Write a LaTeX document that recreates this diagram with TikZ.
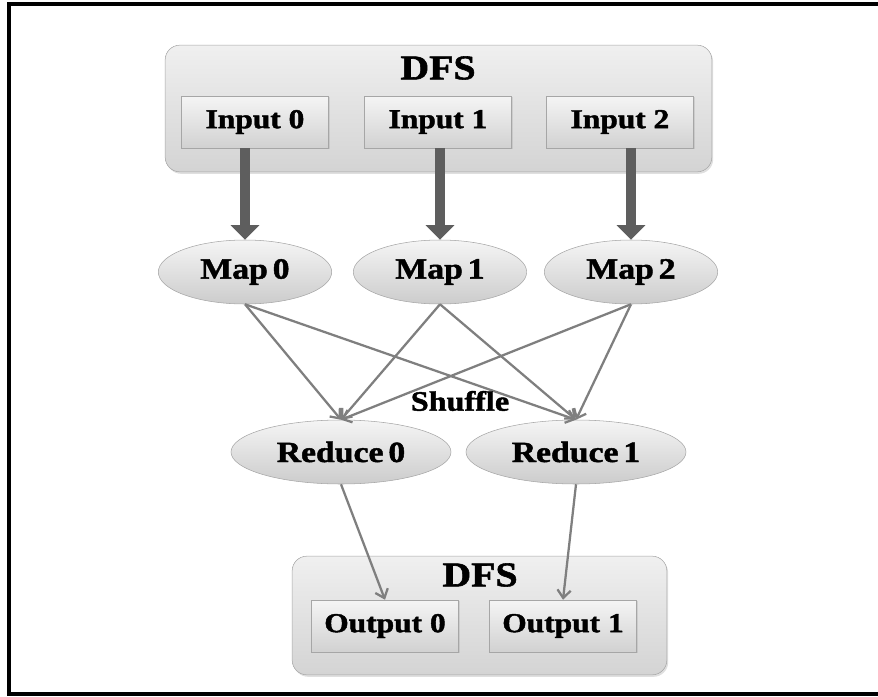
\documentclass[tikz,border=0pt]{standalone}
\usepackage{fontspec}
\usepackage{xcolor}
\usepackage{tikz}
\usetikzlibrary{shapes.geometric,arrows.meta,shadows}

\newfontfamily\diafont{Liberation Serif}[UprightFont={* Bold}, FakeStretch=1.15, FakeBold=1.6]

\definecolor{boxline}{HTML}{A6A6A6}
\definecolor{flowgray}{HTML}{7F7F7F}
\definecolor{fatgray}{HTML}{5E5E5E}

\tikzset{
    dfsbox/.style={draw=boxline, rounded corners=11pt, top color=black!6, bottom color=black!17,
        drop shadow={opacity=0.25, shadow xshift=1pt, shadow yshift=-1.5pt}},
    dfstitle/.style={font=\diafont\fontsize{26}{28}\selectfont},
    filebox/.style={draw=boxline, top color=black!4, bottom color=black!18, inner sep=0pt,
        minimum width=110pt, minimum height=39pt,
        font=\diafont\fontsize{20.5}{22}\selectfont,
        drop shadow={opacity=0.2, shadow xshift=1pt, shadow yshift=-1pt}},
    task/.style={ellipse, draw=boxline, top color=black!4, bottom color=black!20, inner sep=0pt,
        minimum width=130pt, minimum height=48pt,
        font=\diafont\fontsize{22}{24}\selectfont},
    fat/.style={draw=fatgray, line width=7.5pt, -{Triangle[width=21pt,length=11pt]}},
    flow/.style={draw=flowgray, line width=1.7pt, -{Straight Barb[length=6pt,width=10pt]}}
}

\begin{document}
\begin{tikzpicture}[x=0.75pt, y=-0.75pt]
    \useasboundingbox (0,0) rectangle (878,696);
    % frame
    \draw[line width=2.4pt] (878,4) -- (9,4) -- (9,694) -- (878,694);

    % DFS input side
    \node[dfsbox, minimum width=410pt, minimum height=95pt] (dfsin) at (438.5,108.5) {};
    \node[dfstitle] (dfsintitle) at (438,68) {DFS};
    \node[filebox] (in0) at (255,122) {Input 0};
    \node[filebox] (in1) at (438,122) {Input 1};
    \node[filebox] (in2) at (620,122) {Input 2};

    % Map tasks
    \node[task] (map0) at (245,272) {Map\,0};
    \node[task] (map1) at (440,272) {Map\,1};
    \node[task] (map2) at (631,272) {Map\,2};

    \draw[fat] (map0 |- in0.south) -- (map0.north);
    \draw[fat] (map1 |- in1.south) -- (map1.north);
    \draw[fat] (map2 |- in2.south) -- (map2.north);

    % Reduce tasks
    \node[task, minimum width=165pt] (red0) at (341,452) {Reduce\,0};
    \node[task, minimum width=165pt] (red1) at (576,452) {Reduce\,1};

    % Shuffle
    \foreach \m in {map0,map1,map2} {
        \draw[flow] (\m.south) -- (red0.north);
        \draw[flow] (\m.south) -- (red1.north);
    }
    \node[font=\diafont\fontsize{21}{23}\selectfont] (shuffle) at (460,401) {Shuffle};

    % DFS output side
    \node[dfsbox, minimum width=281pt, minimum height=89pt] (dfsout) at (479.5,615.5) {};
    \node[dfstitle] (dfsouttitle) at (480,575) {DFS};
    \node[filebox] (out0) at (385,626) {Output 0};
    \node[filebox] (out1) at (563,626) {Output 1};

    \draw[flow] (red0.south) -- (out0.north);
    \draw[flow] (red1.south) -- (out1.north);
\end{tikzpicture}
\end{document}
